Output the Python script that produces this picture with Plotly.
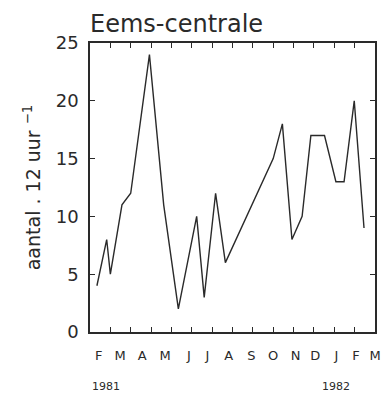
import plotly.graph_objects as go

# Sampling moments, in months from the start of the axis (1 Feb 1981)
month_pos = [0.34, 0.82, 1.0, 1.57, 2.0, 2.92, 3.62, 4.34, 5.24, 5.61, 6.17, 6.65,
             9.0, 9.45, 9.92, 10.42, 10.85, 11.52, 12.08, 12.48, 12.98, 13.46]
# aantal . 12 uur^-1
counts = [4, 8, 5, 11, 12, 24, 11, 2, 10, 3, 12, 6,
          15, 18, 8, 10, 17, 17, 13, 13, 20, 9]

month_labels = ["F", "M", "A", "M", "J", "J", "A", "S", "O", "N", "D", "J", "F", "M"]
month_label_pos = [0.43, 1.48, 2.56, 3.69, 4.86, 5.77, 6.81, 7.93, 9.0, 10.1, 11.06, 12.1, 13.06, 14.0]
year_labels = ["1981", "1982"]
year_label_pos = [0.8, 12.1]

tick_pos = list(range(0, 15))
y_ticks = [0, 5, 10, 15, 20, 25]

ink = "#2a2a2a"
font = "DejaVu Sans"

fig = go.Figure()
fig.add_trace(go.Scatter(x=month_pos, y=counts, mode="lines",
                         line=dict(color=ink, width=1.4), showlegend=False,
                         hoverinfo="skip"))
# invisible trace to attach the month-label axis
fig.add_trace(go.Scatter(x=[month_label_pos[0]], y=[0], xaxis="x2", mode="markers",
                         marker=dict(opacity=0), showlegend=False, hoverinfo="skip"))

fig.update_layout(
    width=391, height=394,
    margin=dict(l=90, r=10, t=43, b=62),
    paper_bgcolor="white", plot_bgcolor="white",
    font=dict(family=font, color=ink),
    title=dict(text="Eems-centrale", x=0, xref="paper", xanchor="left",
               y=1 - 24 / 394, yref="container", yanchor="middle",
               font=dict(size=24, family=font, color=ink)),
    xaxis=dict(range=[0, 14], tickvals=tick_pos, showticklabels=False,
               ticks="inside", ticklen=5, tickwidth=1.2, tickcolor=ink,
               showline=True, linecolor=ink, linewidth=1.5, mirror="ticks",
               showgrid=False, zeroline=False),
    xaxis2=dict(range=[0, 14], overlaying="x", anchor="y", side="bottom",
                tickvals=month_label_pos, ticktext=month_labels, ticks="",
                showline=False, showgrid=False, zeroline=False,
                ticklabelstandoff=14,
                tickfont=dict(size=13, family=font, color=ink)),
    yaxis=dict(range=[0, 25], tickvals=y_ticks,
               ticks="inside", ticklen=5, tickwidth=1.2, tickcolor=ink,
               showline=True, linecolor=ink, linewidth=1.5, mirror="ticks",
               showgrid=False, zeroline=False,
               ticklabelstandoff=6,
               tickfont=dict(size=18, family=font, color=ink),
               title=dict(text="aantal . 12 uur <sup>−1</sup>", standoff=10,
                          font=dict(size=19, family=font, color=ink))),
)

for lab, pos in zip(year_labels, year_label_pos):
    fig.add_annotation(text=lab, x=pos, xref="x", y=-0.189, yref="paper",
                       showarrow=False, xanchor="center", yanchor="middle",
                       font=dict(size=11, family=font, color=ink))

fig.write_html("out.html")
